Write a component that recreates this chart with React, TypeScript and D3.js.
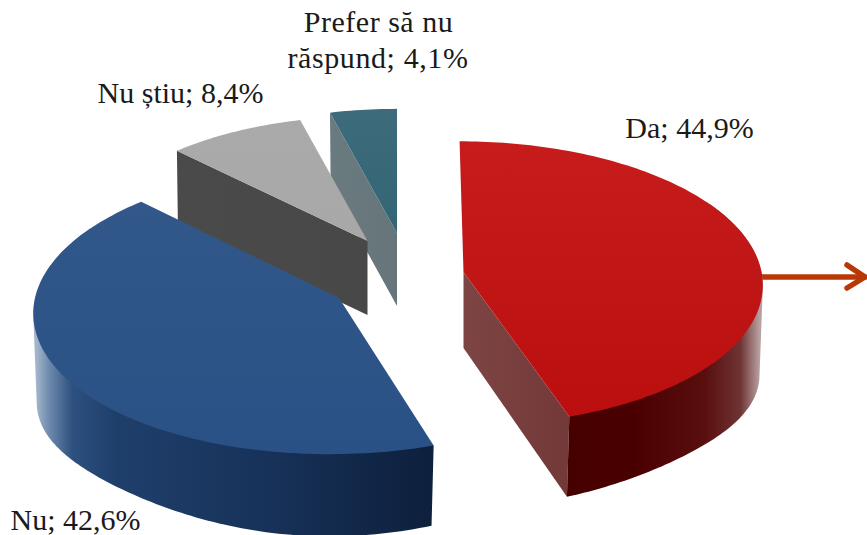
import React from "react";
import * as d3 from "d3";

const WIDTH = 867;
const HEIGHT = 535;

// Data
const categories = ["Da", "Nu", "Nu știu", "Prefer să nu răspund"];
const values = [44.9, 42.6, 8.4, 4.1];

// Styles, by slice
const topColors = [
  ["#c61c1c", "#bb0f0f"],
  ["#32588a", "#2a5185"],
  ["#aaaaaa", "#a8a8a8"],
  ["#3d6b7b", "#336674"],
];
const cutColors = [
  ["#7e4545", "#733838"],
  ["#1e3d68", "#1e3d68"],
  ["#4a4a4a", "#484848"],
  ["#6a7b80", "#66757a"],
];
const rimStops: [number, string][][] = [
  [[0, "#470000"], [0.35, "#4a0000"], [0.72, "#5a0f0f"], [0.9, "#6e3333"], [1, "#b8a0a0"]],
  [[0, "#a3b5ca"], [0.03, "#6f8bae"], [0.09, "#2d507f"], [0.2, "#1f3f6b"], [0.55, "#18335b"], [1, "#0d203c"]],
  [[0, "#4a4a4a"], [1, "#4a4a4a"]],
  [[0, "#66757a"], [1, "#66757a"]],
];

// Layout: projection of each exploded slice
const RX = 298;
const RY = 141;
const PERSPECTIVE = 0.079;
const RIM_FROM = Math.PI / 3;
const RIM_TO = (5 * Math.PI) / 3;
const views = [
  { cx: 463.5, cy: 272, scale: 1, shear: 0.03, depth: 76, bx: 0.99, by: 1.04, flank: 16, pinch: 0.035 },
  { cx: 339, cy: 298, scale: 1.02, shear: -0.06, depth: 76, bx: 0.99, by: 1.04, flank: 16, pinch: 0.035 },
  { cx: 367.5, cy: 241, scale: 0.955, shear: 0, depth: 74, bx: 0.995, by: 1, flank: 0, pinch: 0 },
  { cx: 397, cy: 233, scale: 0.95, shear: 0, depth: 73, bx: 0.99, by: 1, flank: 0, pinch: 0 },
];

const labelLines = [
  { text: "Da; 44,9%", x: 689.5, y: 138, spacing: 0 },
  { text: "Nu; 42,6%", x: 75.5, y: 530, spacing: 0 },
  { text: "Nu știu; 8,4%", x: 180.5, y: 103, spacing: 0 },
  { text: "Prefer să nu", x: 378.5, y: 32, spacing: 0.5 },
  { text: "răspund; 4,1%", x: 378, y: 68, spacing: 0.6 },
];

type View = (typeof views)[number];
type Pt = [number, number];

function project(v: View, theta: number, r: number, bottom: boolean): Pt {
  const s = Math.sin(theta);
  const c = Math.cos(theta);
  const w = 1 + PERSPECTIVE * c * r;
  let dy = (-RY * v.scale * r * c) / w;
  let dx = (RX * v.scale * r * s) / w + v.shear * dy;
  if (bottom) {
    const shrink = r === 0 ? 1 : 1 - v.pinch * Math.sin(2 * theta) ** 2;
    dx *= v.bx * shrink;
    dy = dy * v.by * shrink + v.depth + (r === 0 ? 0 : v.flank * s ** 4);
  }
  return [v.cx + dx, v.cy + dy];
}

const line = d3.line<Pt>().curve(d3.curveLinear);

function arcPoints(v: View, a0: number, a1: number, bottom: boolean): Pt[] {
  const n = Math.max(8, Math.ceil((a1 - a0) / 0.02));
  return d3.range(n + 1).map((i) => project(v, a0 + ((a1 - a0) * i) / n, 1, bottom));
}

const pie = d3.pie<number>().sort(null).value((d) => d);
const arcs = pie(values);

export default function App() {
  const order = [3, 2, 1, 0];
  return (
    <svg
      width={WIDTH}
      height={HEIGHT}
      viewBox={`0 0 ${WIDTH} ${HEIGHT}`}
      style={{ position: "absolute", left: 0, top: 0, background: "#fff" }}
    >
      <title>{categories.join(", ")}</title>
      <defs>
        {arcs.map((a, i) => {
          const v = views[i];
          const xs = arcPoints(v, a.startAngle, a.endAngle, true).map((p) => p[0]);
          const [xMin, xMax] = d3.extent(xs) as [number, number];
          const flip = i === 0;
          return (
            <React.Fragment key={i}>
              <linearGradient id={`top${i}`} x1="0" y1="0" x2="0" y2="1">
                <stop offset="0" stopColor={topColors[i][0]} />
                <stop offset="1" stopColor={topColors[i][1]} />
              </linearGradient>
              <linearGradient id={`cut${i}`} x1="0" y1="0" x2="1" y2="0">
                <stop offset="0" stopColor={cutColors[i][0]} />
                <stop offset="1" stopColor={cutColors[i][1]} />
              </linearGradient>
              <linearGradient
                id={`rim${i}`}
                gradientUnits="userSpaceOnUse"
                x1={flip ? project(v, a.endAngle, 1, true)[0] : xMin}
                y1={0}
                x2={xMax}
                y2={0}
              >
                {rimStops[i].map(([o, c], j) => (
                  <stop key={j} offset={o} stopColor={c} />
                ))}
              </linearGradient>
            </React.Fragment>
          );
        })}
      </defs>

      <g stroke="#b83808" strokeWidth={5.5} strokeLinecap="round" strokeLinejoin="round" fill="none">
        <path d={line([[758, 277], [865, 277]]) ?? ""} />
        <path d={line([[847, 265], [865, 277], [847, 288]]) ?? ""} />
      </g>

      {order.map((i) => {
        const a = arcs[i];
        const v = views[i];
        const center = (bottom: boolean): Pt => project(v, 0, 0, bottom);
        const topArc = arcPoints(v, a.startAngle, a.endAngle, false);
        const rimFrom = Math.max(a.startAngle, RIM_FROM);
        const rimTo = Math.min(a.endAngle, RIM_TO);
        const hull =
          rimTo > rimFrom
            ? d3.polygonHull([...arcPoints(v, rimFrom, rimTo, false), ...arcPoints(v, rimFrom, rimTo, true)])
            : null;
        const face = (theta: number): Pt[] => [
          center(false),
          project(v, theta, 1, false),
          project(v, theta, 1, true),
          center(true),
        ];
        return (
          <g key={i}>
            {i > 1 ? <path d={`${line(face(a.startAngle))}Z`} fill={`url(#cut${i})`} /> : null}
            {i === 0 ? <path d={`${line(face(a.endAngle))}Z`} fill={`url(#cut${i})`} /> : null}
            {hull ? <path d={`${line(hull as Pt[])}Z`} fill={`url(#rim${i})`} /> : null}
            <path d={`${line([center(false), ...topArc])}Z`} fill={`url(#top${i})`} />
          </g>
        );
      })}

      <g fontFamily="'Liberation Serif', serif" fontSize={30} fill="#1a1a1a" textAnchor="middle">
        {labelLines.map((l) => (
          <text key={l.text} x={l.x} y={l.y} letterSpacing={l.spacing}>
            {l.text}
          </text>
        ))}
      </g>
    </svg>
  );
}
